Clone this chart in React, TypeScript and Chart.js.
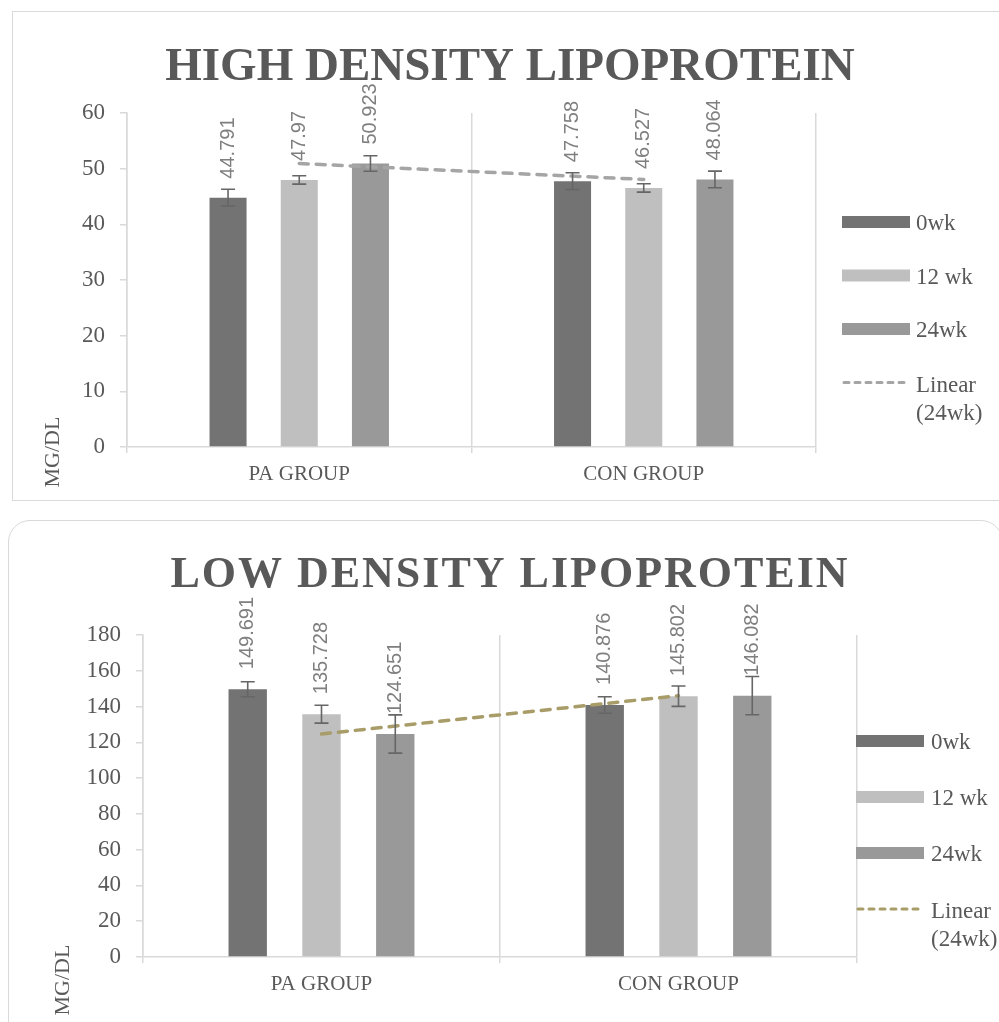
import React, { useEffect, useRef } from 'react';
import { Chart, registerables } from 'chart.js';

Chart.register(...registerables);

// ---------- data ----------
const categories = ['PA GROUP', 'CON GROUP'];
const seriesLabels = ['0wk', '12 wk', '24wk'];
const trendLabelLines = ['Linear', '(24wk)'];
const axisTitle = 'MG/DL';

const hdlTitle = 'HIGH DENSITY LIPOPROTEIN';
const hdl0 = [44.791, 47.758];
const hdl12 = [47.97, 46.527];
const hdl24 = [50.923, 48.064];
const hdlErr0 = [1.5, 1.5];
const hdlErr12 = [0.75, 0.75];
const hdlErr24 = [1.4, 1.5];
const hdlTrend = [50.923, 48.064];
const hdlMax = 60;
const hdlStep = 10;

const ldlTitle = 'LOW DENSITY LIPOPROTEIN';
const ldl0 = [149.691, 140.876];
const ldl12 = [135.728, 145.802];
const ldl24 = [124.651, 146.082];
const ldlErr0 = [4.2, 4.6];
const ldlErr12 = [5.0, 5.7];
const ldlErr24 = [10.7, 10.7];
const ldlTrend = [124.651, 146.082];
const ldlMax = 180;
const ldlStep = 20;

// ---------- styles ----------
const barColors = ['#737373', '#bfbfbf', '#999999'];
const textColor = '#595959';
const gridColor = '#d9d9d9';
const SERIF = "'Liberation Serif', 'Times New Roman', serif";
const SANS = "'Liberation Sans', Arial, sans-serif";

const decorPlugin = {
  id: 'decor',
  afterDatasetsDraw(chart: any, _args: any, opts: any) {
    const ctx = chart.ctx;
    const yScale = chart.scales.y;
    opts.errors.forEach((errs: number[], di: number) => {
      const meta = chart.getDatasetMeta(di);
      meta.data.forEach((bar: any, j: number) => {
        const v = chart.data.datasets[di].data[j];
        const yt = yScale.getPixelForValue(v + errs[j]);
        const yb = yScale.getPixelForValue(v - errs[j]);
        ctx.save();
        ctx.strokeStyle = '#666666';
        ctx.lineWidth = 1.6;
        ctx.beginPath();
        ctx.moveTo(bar.x, yt);
        ctx.lineTo(bar.x, yb);
        ctx.moveTo(bar.x - 7, yt);
        ctx.lineTo(bar.x + 7, yt);
        ctx.moveTo(bar.x - 7, yb);
        ctx.lineTo(bar.x + 7, yb);
        ctx.stroke();
        ctx.restore();
      });
    });
  },
  afterDraw(chart: any, _args: any, opts: any) {
    const ctx = chart.ctx;
    // data labels
    for (let di = 0; di < 3; di++) {
      const meta = chart.getDatasetMeta(di);
      meta.data.forEach((bar: any, j: number) => {
        const v = chart.data.datasets[di].data[j];
        ctx.save();
        ctx.translate(bar.x, bar.y - opts.labelGap);
        ctx.rotate(-Math.PI / 2);
        ctx.font = `20px ${SANS}`;
        ctx.fillStyle = '#7f7f7f';
        ctx.textAlign = 'left';
        ctx.textBaseline = 'middle';
        ctx.fillText(String(v), 0, 0);
        ctx.restore();
      });
    }
    // title
    ctx.save();
    ctx.font = `bold ${opts.titleSize}px ${SERIF}`;
    ctx.fillStyle = textColor;
    (ctx as any).letterSpacing = opts.titleSpacing + 'px';
    ctx.textAlign = 'center';
    ctx.textBaseline = 'alphabetic';
    ctx.fillText(opts.title, opts.titleX, opts.titleY);
    (ctx as any).letterSpacing = '0px';
    ctx.restore();
    // axis title
    ctx.save();
    ctx.translate(opts.axisX, opts.axisY);
    ctx.rotate(-Math.PI / 2);
    ctx.font = `22px ${SERIF}`;
    ctx.fillStyle = textColor;
    ctx.textAlign = 'center';
    ctx.textBaseline = 'middle';
    ctx.fillText(axisTitle, 0, 0);
    ctx.restore();
    // legend
    const lg = opts.legend;
    ctx.save();
    ctx.font = `23px ${SERIF}`;
    ctx.fillStyle = textColor;
    ctx.textAlign = 'left';
    ctx.textBaseline = 'middle';
    for (let i = 0; i < 3; i++) {
      const cy = lg.y0 + i * lg.step;
      ctx.fillStyle = chart.data.datasets[i].backgroundColor;
      ctx.fillRect(lg.x, cy - 6, 68, 12);
      ctx.fillStyle = textColor;
      ctx.fillText(chart.data.datasets[i].label, lg.textX, cy + 2);
    }
    const ty = lg.y0 + 3 * lg.step;
    ctx.strokeStyle = chart.data.datasets[3].borderColor;
    ctx.lineWidth = 3;
    ctx.lineCap = 'round';
    ctx.setLineDash([5, 6]);
    ctx.beginPath();
    ctx.moveTo(lg.x + 2, ty);
    ctx.lineTo(lg.x + 68, ty);
    ctx.stroke();
    ctx.setLineDash([]);
    ctx.fillStyle = textColor;
    ctx.fillText(trendLabelLines[0], lg.textX, ty + 3);
    ctx.fillText(trendLabelLines[1], lg.textX, ty + 31);
    ctx.restore();
  },
};

function makeConfig(spec: any) {
  const barCommon = { barPercentage: 0.52, categoryPercentage: 0.62, order: 1 };
  return {
    type: 'bar',
    data: {
      labels: categories,
      datasets: [
        { label: seriesLabels[0], data: spec.v0, backgroundColor: barColors[0], ...barCommon },
        { label: seriesLabels[1], data: spec.v12, backgroundColor: barColors[1], ...barCommon },
        { label: seriesLabels[2], data: spec.v24, backgroundColor: barColors[2], ...barCommon },
        {
          type: 'line',
          label: trendLabelLines.join(' '),
          data: spec.trend,
          borderColor: spec.trendColor,
          borderWidth: 3.5,
          borderDash: [9, 8],
          borderCapStyle: 'round',
          pointRadius: 0,
          fill: false,
          order: 0,
        },
      ],
    },
    options: {
      animation: false,
      responsive: false,
      devicePixelRatio: 1,
      layout: { padding: spec.padding },
      plugins: {
        legend: { display: false },
        tooltip: { enabled: false },
        title: { display: false },
        decor: spec.decor,
      },
      scales: {
        x: {
          grid: { offset: true, color: gridColor, lineWidth: 1.5, tickLength: 6, drawOnChartArea: true },
          border: { color: gridColor, width: 1.5 },
          ticks: { font: { family: SERIF, size: 21 }, color: textColor, padding: 9 },
          afterFit: (s: any) => { s.height = spec.xHeight; },
        },
        y: {
          min: 0,
          max: spec.max,
          ticks: { stepSize: spec.step, font: { family: SERIF, size: 23 }, color: textColor, padding: 15 },
          grid: { drawOnChartArea: false, color: gridColor, lineWidth: 1.5, tickLength: 7 },
          border: { color: gridColor, width: 1.5 },
          afterFit: (s: any) => { s.width = 60; },
        },
      },
    },
    plugins: [decorPlugin],
  };
}

function ChartCanvas({ spec, width, height, top }: any) {
  const ref = useRef<HTMLCanvasElement | null>(null);
  useEffect(() => {
    if (!ref.current) return;
    const chart = new Chart(ref.current, makeConfig(spec) as any);
    return () => chart.destroy();
  }, []);
  return (
    <canvas
      ref={ref}
      width={width}
      height={height}
      style={{ position: 'absolute', left: 0, top, width, height }}
    />
  );
}

const hdlSpec = {
  v0: hdl0, v12: hdl12, v24: hdl24, trend: hdlTrend, trendColor: '#a5a5a5',
  max: hdlMax, step: hdlStep,
  padding: { left: 67, right: 183, top: 113, bottom: 0 },
  xHeight: 58,
  decor: {
    errors: [hdlErr0, hdlErr12, hdlErr24],
    labelGap: 19,
    title: hdlTitle, titleSize: 47, titleSpacing: 0, titleX: 510, titleY: 80,
    axisX: 53, axisY: 452,
    legend: { x: 842, textX: 916, y0: 222, step: 53.5 },
  },
};

const ldlSpec = {
  v0: ldl0, v12: ldl12, v24: ldl24, trend: ldlTrend, trendColor: '#a89c68',
  max: ldlMax, step: ldlStep,
  padding: { left: 83, right: 142, top: 125, bottom: 0 },
  xHeight: 65,
  decor: {
    errors: [ldlErr0, ldlErr12, ldlErr24],
    labelGap: 20,
    title: ldlTitle, titleSize: 44, titleSpacing: 2, titleX: 510, titleY: 77,
    axisX: 63, axisY: 470,
    legend: { x: 856, textX: 931, y0: 231, step: 56 },
  },
};

export default function App() {
  return (
    <div style={{ position: 'absolute', left: 0, top: 0, width: 999, height: 1022, overflow: 'hidden', background: '#fff' }}>
      <div style={{ position: 'absolute', left: 12, top: 11, width: 1000, height: 490, border: '1.5px solid #d9d9d9', boxSizing: 'border-box' }} />
      <div style={{ position: 'absolute', left: 8, top: 520, width: 995, height: 540, border: '1.5px solid #d9d9d9', borderRadius: 22, boxSizing: 'border-box' }} />
      <ChartCanvas spec={hdlSpec} width={999} height={505} top={0} />
      <ChartCanvas spec={ldlSpec} width={999} height={512} top={510} />
    </div>
  );
}
